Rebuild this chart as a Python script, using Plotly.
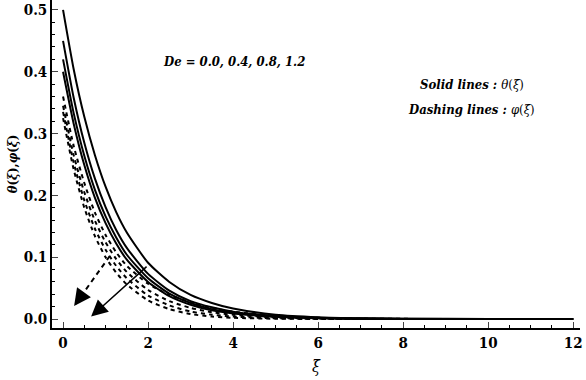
import plotly.graph_objects as go

xi = [0, 0.25, 0.5, 0.75, 1, 1.25, 1.5, 2, 2.5, 3, 3.5, 4, 5, 6, 7, 8, 10, 12]

theta_1 = [0.50, 0.404, 0.327, 0.265, 0.214, 0.173, 0.140, 0.091, 0.060, 0.039, 0.026, 0.017, 0.007, 0.003, 0.0013, 0.0006, 0.0001, 0]
theta_2 = [0.45, 0.358, 0.285, 0.227, 0.181, 0.144, 0.115, 0.073, 0.046, 0.029, 0.019, 0.012, 0.005, 0.002, 0.0008, 0.0003, 0.0001, 0]
theta_3 = [0.42, 0.333, 0.264, 0.209, 0.166, 0.132, 0.104, 0.066, 0.041, 0.026, 0.016, 0.010, 0.004, 0.0016, 0.0006, 0.0002, 0, 0]
theta_4 = [0.40, 0.316, 0.249, 0.196, 0.155, 0.122, 0.096, 0.060, 0.037, 0.023, 0.014, 0.009, 0.0035, 0.0013, 0.0005, 0.0002, 0, 0]

phi_1 = [0.36, 0.280, 0.220, 0.172, 0.136, 0.108, 0.086, 0.057, 0.039, 0.027, 0.018, 0.012, 0.005, 0.002, 0.0008, 0.0003, 0, 0]
phi_2 = [0.345, 0.265, 0.205, 0.159, 0.124, 0.097, 0.076, 0.047, 0.029, 0.018, 0.011, 0.007, 0.0025, 0.0009, 0.0003, 0.0001, 0, 0]
phi_3 = [0.335, 0.253, 0.192, 0.146, 0.112, 0.086, 0.066, 0.038, 0.022, 0.012, 0.007, 0.004, 0.0012, 0.0004, 0.0001, 0, 0, 0]
phi_4 = [0.325, 0.242, 0.180, 0.134, 0.100, 0.075, 0.056, 0.030, 0.016, 0.008, 0.004, 0.002, 0.0005, 0.0001, 0, 0, 0, 0]

x_ticks = [0, 2, 4, 6, 8, 10, 12]
y_ticks = [0.0, 0.1, 0.2, 0.3, 0.4, 0.5]
y_ticklabels = ["0.0", "0.1", "0.2", "0.3", "0.4", "0.5"]

# arrows: [tail_x, tail_y, head_x, head_y]
solid_arrow = [2.0, 0.087, 0.66, 0.004]
dash_arrow = [1.1, 0.102, 0.26, 0.021]

SERIF = "DejaVu Serif Condensed, DejaVu Serif, serif"

fig = go.Figure()
for ys in [theta_1, theta_2, theta_3, theta_4]:
    fig.add_trace(go.Scatter(x=xi, y=ys, mode="lines", line=dict(color="black", width=2, shape="spline", smoothing=0.6), showlegend=False, hoverinfo="skip"))
for ys in [phi_1, phi_2, phi_3, phi_4]:
    fig.add_trace(go.Scatter(x=xi, y=ys, mode="lines", line=dict(color="black", width=2, dash="4px,4px", shape="spline", smoothing=0.6), showlegend=False, hoverinfo="skip"))

fig.add_annotation(x=solid_arrow[2], y=solid_arrow[3], ax=solid_arrow[0], ay=solid_arrow[1],
                   xref="x", yref="y", axref="x", ayref="y", showarrow=True, text="",
                   arrowhead=2, arrowsize=2.2, arrowwidth=1.5, arrowcolor="black")
fig.add_trace(go.Scatter(x=[dash_arrow[0], dash_arrow[2]], y=[dash_arrow[1], dash_arrow[3]], mode="lines",
                         line=dict(color="black", width=2, dash="5px,4px"), showlegend=False, hoverinfo="skip"))
fig.add_annotation(x=dash_arrow[2], y=dash_arrow[3],
                   ax=dash_arrow[2] + (dash_arrow[0] - dash_arrow[2]) * 0.2,
                   ay=dash_arrow[3] + (dash_arrow[1] - dash_arrow[3]) * 0.2,
                   xref="x", yref="y", axref="x", ayref="y", showarrow=True, text="",
                   arrowhead=2, arrowsize=1.7, arrowwidth=2, arrowcolor="black")

fig.add_annotation(x=0.345, y=0.811, xref="paper", yref="paper", xanchor="center", yanchor="middle",
                   text="<b><i>De = 0.0, 0.4, 0.8, 1.2</i></b>",
                   showarrow=False, font=dict(family=SERIF, size=13, color="black"))
fig.add_annotation(text="<b><i>Solid lines : </i></b><i>θ</i>(<i>ξ</i>)", showarrow=False,
                   xref="paper", yref="paper", x=0.795, y=0.741, xanchor="center", yanchor="middle",
                   font=dict(family=SERIF, size=13, color="black"))
fig.add_annotation(text="<b><i>Dashing lines : </i></b><i>φ</i>(<i>ξ</i>)", showarrow=False,
                   xref="paper", yref="paper", x=0.794, y=0.665, xanchor="center", yanchor="middle",
                   font=dict(family=SERIF, size=13, color="black"))

fig.update_layout(
    width=586, height=380,
    margin=dict(l=52, r=6, t=0, b=52),
    paper_bgcolor="white", plot_bgcolor="white",
    font=dict(family=SERIF, color="black"),
    hovermode=False,
    xaxis=dict(range=[-0.26, 12.16], tickvals=x_ticks, ticks="inside", ticklen=6, tickwidth=1,
               showline=True, linecolor="black", linewidth=1.5, showgrid=False, zeroline=False, automargin=False,
               tickfont=dict(family=SERIF, size=15, color="black", weight="bold"),
               minor=dict(dtick=0.5, ticks="inside", ticklen=3, tickcolor="black", showgrid=False),
               title=dict(text="<i>ξ</i>", font=dict(family=SERIF, size=16, color="black"), standoff=10)),
    yaxis=dict(range=[-0.0145, 0.516], tickvals=y_ticks, ticktext=y_ticklabels, ticks="inside", ticklen=6,
               showline=True, linecolor="black", linewidth=1.5, showgrid=False, zeroline=False, automargin=False,
               tickfont=dict(family=SERIF, size=15, color="black", weight="bold"),
               minor=dict(dtick=0.02, ticks="inside", ticklen=3, tickcolor="black", showgrid=False),
               title=dict(text="<b><i>θ</i>(<i>ξ</i>),<i>φ</i>(<i>ξ</i>)</b>", font=dict(family=SERIF, size=13, color="black"), standoff=3)),
)
fig.write_html("out.html", config={"displayModeBar": False}, post_script="document.body.style.margin='0px';")
